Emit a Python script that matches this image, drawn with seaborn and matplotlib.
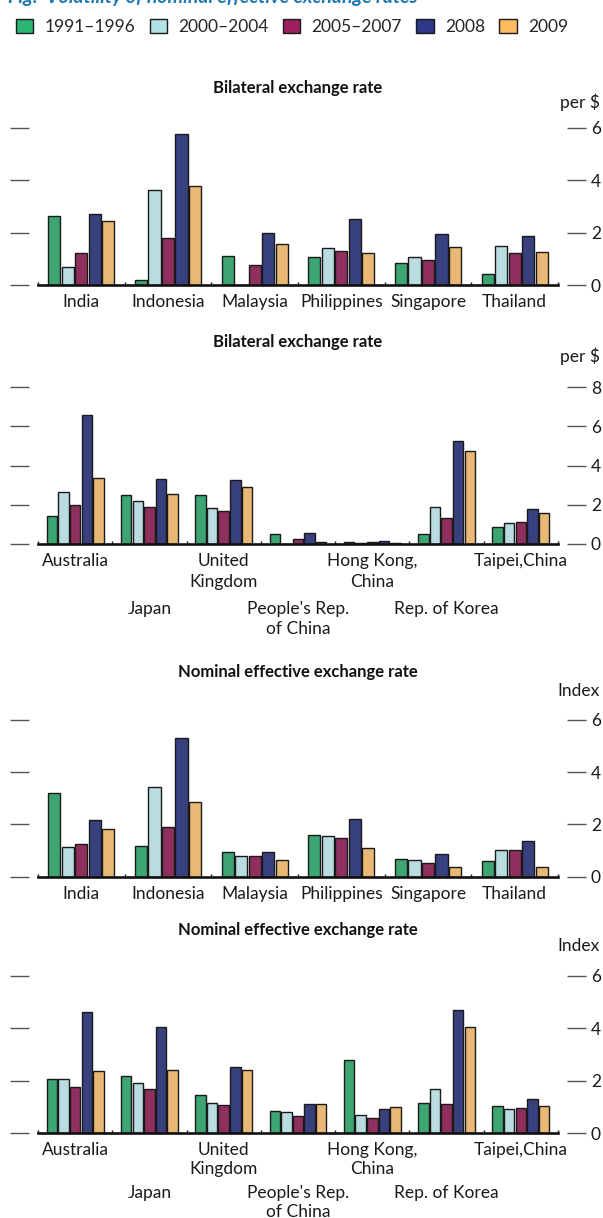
import matplotlib
matplotlib.use("Agg")
import matplotlib.pyplot as plt
from matplotlib.patches import Patch
import seaborn as sns
import pandas as pd
import numpy as np

# ---------------- data ----------------
periods = ["1991–1996", "2000–2004", "2005–2007", "2008", "2009"]
colors = ["#2BB673", "#B2E2E6", "#9E1F5E", "#2E3789", "#FDBB62"]

countries_a = ["India", "Indonesia", "Malaysia", "Philippines", "Singapore", "Thailand"]
countries_b = ["Australia", "Japan", "United\nKingdom", "People's Rep.\nof China",
               "Hong Kong,\nChina", "Rep. of Korea", "Taipei,China"]

# Bilateral exchange rate, panel A (per $)
bil_a_1991 = [2.64, 0.18, 1.12, 1.07, 0.83, 0.41]
bil_a_2000 = [0.69, 3.63, 0.00, 1.43, 1.05, 1.47]
bil_a_2005 = [1.21, 1.78, 0.78, 1.30, 0.96, 1.21]
bil_a_2008 = [2.71, 5.75, 1.97, 2.52, 1.95, 1.88]
bil_a_2009 = [2.45, 3.79, 1.57, 1.23, 1.46, 1.24]

# Bilateral exchange rate, panel B (per $)
bil_b_1991 = [1.44, 2.51, 2.48, 0.49, 0.08, 0.53, 0.87]
bil_b_2000 = [2.63, 2.21, 1.83, 0.00, 0.03, 1.87, 1.07]
bil_b_2005 = [1.99, 1.90, 1.71, 0.23, 0.12, 1.31, 1.14]
bil_b_2008 = [6.57, 3.33, 3.26, 0.58, 0.15, 5.28, 1.80]
bil_b_2009 = [3.38, 2.55, 2.89, 0.08, 0.03, 4.74, 1.58]

# Nominal effective exchange rate, panel A (index)
neer_a_1991 = [3.22, 1.16, 0.95, 1.61, 0.66, 0.61]
neer_a_2000 = [1.15, 3.45, 0.79, 1.55, 0.63, 1.03]
neer_a_2005 = [1.26, 1.90, 0.78, 1.49, 0.54, 1.02]
neer_a_2008 = [2.16, 5.31, 0.93, 2.20, 0.86, 1.35]
neer_a_2009 = [1.81, 2.86, 0.65, 1.09, 0.38, 0.38]

# Nominal effective exchange rate, panel B (index)
neer_b_1991 = [2.06, 2.20, 1.46, 0.86, 2.80, 1.14, 1.04]
neer_b_2000 = [2.06, 1.91, 1.14, 0.80, 0.69, 1.68, 0.92]
neer_b_2005 = [1.78, 1.68, 1.07, 0.66, 0.60, 1.11, 0.95]
neer_b_2008 = [4.64, 4.07, 2.52, 1.12, 0.93, 4.69, 1.31]
neer_b_2009 = [2.38, 2.41, 2.43, 1.13, 1.02, 4.07, 1.04]

panels = [
    dict(title="Bilateral exchange rate", unit="per $", countries=countries_a,
         series=[bil_a_1991, bil_a_2000, bil_a_2005, bil_a_2008, bil_a_2009],
         yticks=[0, 2, 4, 6]),
    dict(title="Bilateral exchange rate", unit="per $", countries=countries_b,
         series=[bil_b_1991, bil_b_2000, bil_b_2005, bil_b_2008, bil_b_2009],
         yticks=[0, 2, 4, 6, 8]),
    dict(title="Nominal effective exchange rate", unit="Index", countries=countries_a,
         series=[neer_a_1991, neer_a_2000, neer_a_2005, neer_a_2008, neer_a_2009],
         yticks=[0, 2, 4, 6]),
    dict(title="Nominal effective exchange rate", unit="Index", countries=countries_b,
         series=[neer_b_1991, neer_b_2000, neer_b_2005, neer_b_2008, neer_b_2009],
         yticks=[0, 2, 4, 6]),
]

# layout (pixels from top): axes top, baseline, title y, unit y, stagger pad, line spacing
layout = [
    dict(top=127.7, base=285.0, title_y=88, unit_y=102, stagger=None, ls=1.35),
    dict(top=387.3, base=544.0, title_y=342, unit_y=356, stagger=34.5, ls=1.35),
    dict(top=720.0, base=876.7, title_y=672, unit_y=691, stagger=None, ls=1.35),
    dict(top=976.0, base=1133.3, title_y=930, unit_y=946, stagger=31.0, ls=1.22),
]

# ---------------- style ----------------
sns.set_theme(style="white")
plt.rcParams["font.family"] = ["Lato", "DejaVu Sans"]

W, H = 603, 1218
fig = plt.figure(figsize=(W / 100, H / 100), dpi=100)

FS = 12.5
ax_left, ax_right = 38, 558
tick_col = "#555555"
XPAD = 6.5

for p, L in zip(panels, layout):
    n = len(p["countries"])
    rows = []
    for period, vals in zip(periods, p["series"]):
        for c, v in zip(p["countries"], vals):
            rows.append({"country": c, "period": period, "value": v})
    df = pd.DataFrame(rows)

    ax = fig.add_axes([ax_left / W, 1 - L["base"] / H,
                       (ax_right - ax_left) / W, (L["base"] - L["top"]) / H])
    sns.barplot(data=df, x="country", y="value", hue="period",
                order=p["countries"], hue_order=periods, palette=colors,
                width=0.78, gap=0.1, edgecolor="#1a1a1a", linewidth=1.0,
                errorbar=None, legend=False, ax=ax, zorder=2)
    ax.set_xlim(-0.5, n - 0.5)
    ax.set_ylim(0, p["yticks"][-1])
    ax.set_xlabel("")
    ax.set_ylabel("")

    # y axis: dashes both sides, labels on right
    ax.set_yticks(p["yticks"])
    ax.set_yticklabels([str(t) for t in p["yticks"]])
    ax.spines["left"].set_position(("outward", 6.5))
    ax.spines["right"].set_position(("outward", 6.3))
    for s in ["left", "right", "top"]:
        ax.spines[s].set_visible(False)
    ax.tick_params(axis="y", which="major", left=True, right=True,
                   labelleft=False, labelright=True, direction="out",
                   length=13.7, width=1.0, color=tick_col, pad=3.6,
                   labelsize=FS, labelcolor="#1a1a1a")

    # x axis: thick baseline with small separators
    ax.spines["bottom"].set_linewidth(1.9)
    ax.spines["bottom"].set_color("#111111")
    ax.spines["bottom"].set_zorder(3)
    ax.set_xticks(np.arange(-0.5, n, 1.0), minor=True)
    ax.tick_params(axis="x", which="minor", bottom=True, direction="in",
                   length=2.5, width=1.0, color="#111111")
    ax.tick_params(axis="x", which="major", bottom=True, length=0,
                   pad=XPAD, labelsize=FS, labelcolor="#1a1a1a")
    ax.set_xticks(np.arange(n))
    ax.set_xticklabels(p["countries"], linespacing=L["ls"])
    if L["stagger"] is not None:
        for i, t in enumerate(ax.xaxis.get_major_ticks()):
            if i % 2 == 1:
                t.set_pad(XPAD + L["stagger"])
    ax.grid(False)

    cx = (ax_left + ax_right) / 2 / W
    fig.text(cx, 1 - L["title_y"] / H, p["title"], ha="center", va="center",
             fontsize=12, fontweight="bold", color="#111111")
    fig.text(600 / W, 1 - L["unit_y"] / H, p["unit"], ha="right", va="center",
             fontsize=FS, color="#1a1a1a")

# partially visible figure title at the very top (cut off, as in the source)
fig.text(8 / W, 1 - 3 / H, "Fig.  Volatility of nominal effective exchange rates",
         ha="left", va="baseline", fontsize=14, fontweight="bold",
         fontstyle="italic", color="#1F78B4")

handles = [Patch(facecolor=c, edgecolor="#1a1a1a", linewidth=1.0) for c in colors]
fig.legend(handles, periods, loc="center left", bbox_to_anchor=(16 / W, 1 - 27 / H),
           ncol=5, frameon=False, fontsize=FS, handlelength=1.0, handleheight=0.85,
           handletextpad=0.65, columnspacing=0.82, borderpad=0, borderaxespad=0)

fig.savefig("out.png", dpi=100)
